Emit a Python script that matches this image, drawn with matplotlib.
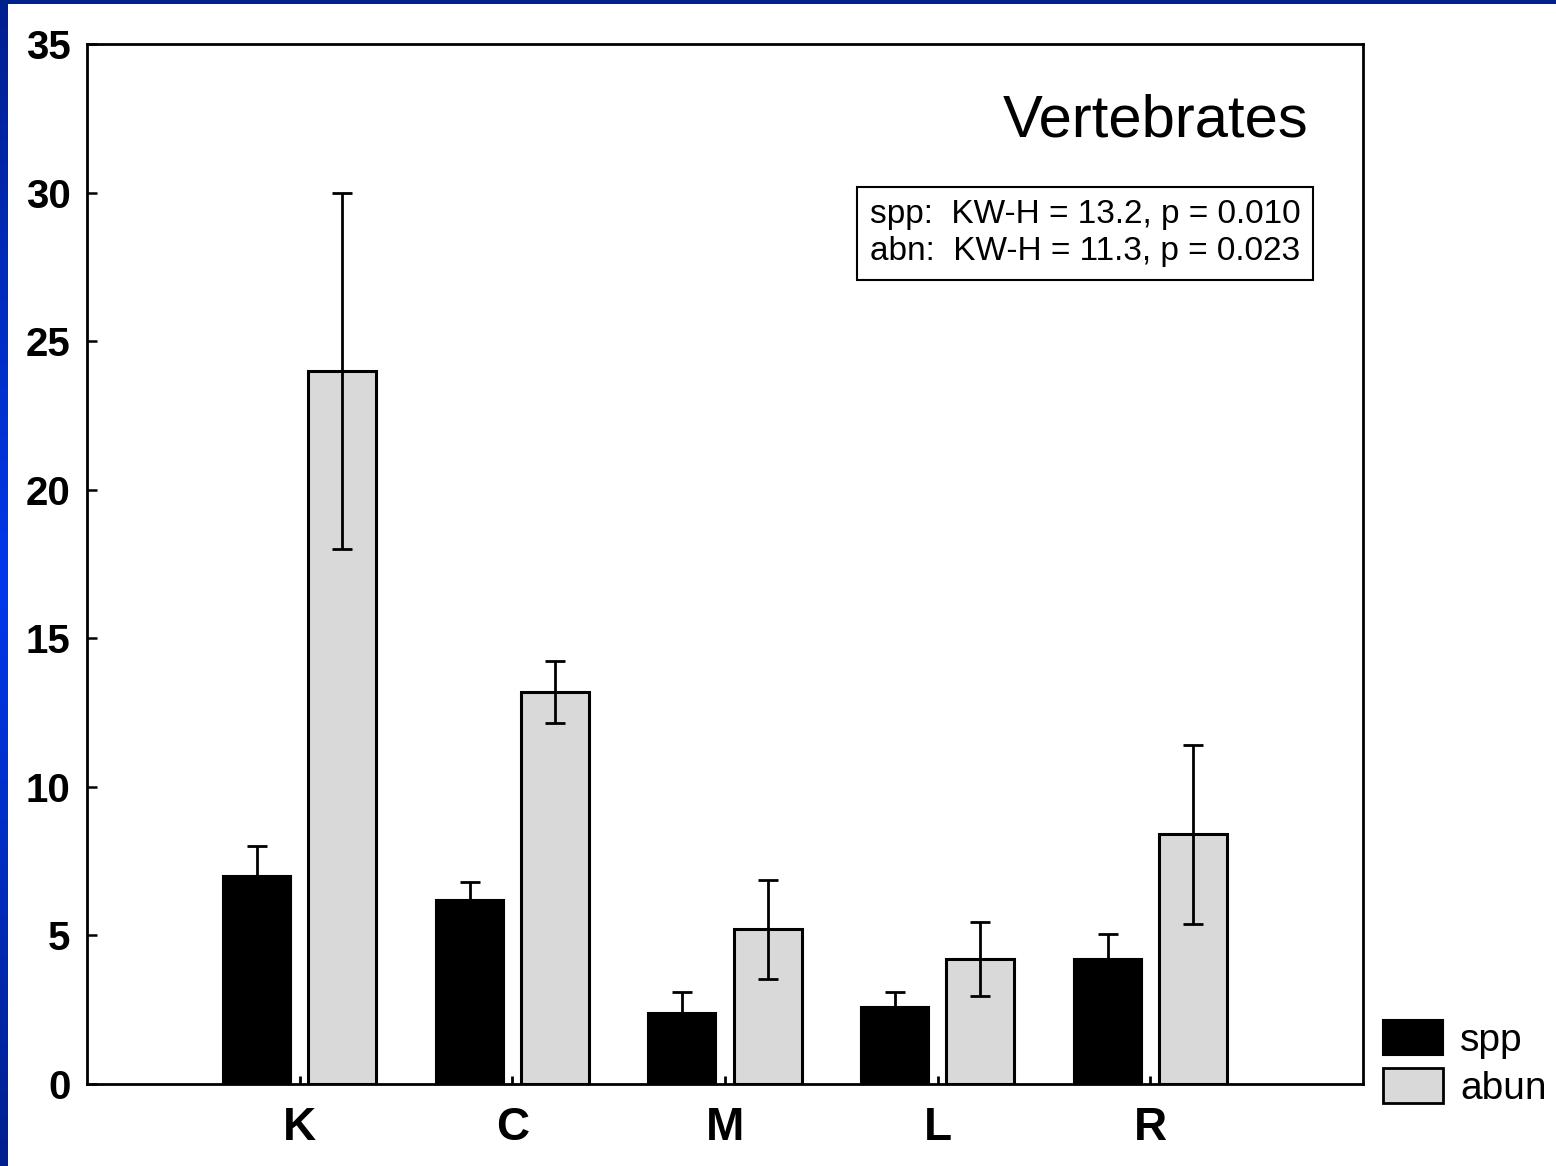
import numpy as np
import matplotlib
matplotlib.use("Agg")
import matplotlib.pyplot as plt
from matplotlib.colors import LinearSegmentedColormap
from matplotlib.patches import Patch

plt.rcParams['font.family'] = ['Liberation Sans', 'DejaVu Sans']

sites = ['K', 'C', 'M', 'L', 'R']
spp_mean = [7.0, 6.2, 2.4, 2.6, 4.2]
spp_err = [1.0, 0.6, 0.7, 0.5, 0.85]
abun_mean = [24.0, 13.2, 5.2, 4.2, 8.4]
abun_err = [6.0, 1.05, 1.65, 1.25, 3.0]
stats_lines = ["spp:  KW-H = 13.2, p = 0.010",
               "abn:  KW-H = 11.3, p = 0.023"]


def main():
    W, H = 1556, 1166
    fig = plt.figure(figsize=(W / 100, H / 100), dpi=100)
    fig.patch.set_facecolor('white')

    # blue slide border (left and top)
    cmap = LinearSegmentedColormap.from_list('edge', ['#00208F', '#0038EC', '#00208F'])
    grad = np.linspace(0, 1, 256).reshape(-1, 1)
    bl = fig.add_axes([0, 0, 8 / W, 1])
    bl.imshow(grad, aspect='auto', cmap=cmap, extent=[0, 1, 0, 1])
    bl.axis('off')
    bt = fig.add_axes([0, 1 - 4 / H, 1, 4 / H])
    bt.set_facecolor('#00208C')
    bt.set_xticks([])
    bt.set_yticks([])
    for s in bt.spines.values():
        s.set_visible(False)

    ax = fig.add_axes([87 / W, 1 - 1084 / H, (1363 - 87) / W, (1084 - 44) / H])
    x = np.arange(len(sites))
    w = 0.32
    off = 0.2

    ax.bar(x - off, spp_mean, w, color='black', edgecolor='black', linewidth=1.5, zorder=2)
    ax.bar(x + off, abun_mean, w, color='#D9D9D9', edgecolor='black', linewidth=2.2, zorder=2)
    ax.errorbar(x - off, spp_mean, yerr=[np.zeros(len(spp_err)), spp_err], fmt='none',
                ecolor='black', elinewidth=2, capsize=7, capthick=2, zorder=3)
    ax.errorbar(x + off, abun_mean, yerr=abun_err, fmt='none',
                ecolor='black', elinewidth=2, capsize=7, capthick=2, zorder=3)

    ax.set_xlim(-1, 5)
    ax.set_ylim(0, 35)
    ax.set_yticks(range(0, 36, 5))
    ax.set_xticks(x)
    ax.set_xticklabels(sites, fontsize=33, fontweight='bold')
    ax.tick_params(axis='y', direction='in', length=7, width=1.8, labelsize=29, pad=12)
    ax.tick_params(axis='x', direction='in', length=6, width=2, pad=16)
    for lab in ax.get_yticklabels():
        lab.set_fontweight('bold')
    for s in ax.spines.values():
        s.set_linewidth(2)

    ax.text(0.957, 0.9106, 'Vertebrates', transform=ax.transAxes, ha='right', va='baseline',
            fontsize=43)
    ax.text(0.951, 0.818, "\n".join(stats_lines), transform=ax.transAxes, ha='right', va='center',
            fontsize=24, linespacing=1.25,
            bbox=dict(boxstyle='square,pad=0.38', facecolor='white', edgecolor='black', linewidth=1.5))

    handles = [Patch(facecolor='black', edgecolor='black', linewidth=1.5),
               Patch(facecolor='#D9D9D9', edgecolor='black', linewidth=2)]
    fig.legend(handles, ['spp', 'abun'], loc='upper left',
               bbox_to_anchor=(1383 / W, 1 - 1020 / H), frameon=False, fontsize=28,
               handlelength=1.55, handleheight=1.0, labelspacing=0.25, handletextpad=0.44,
               borderpad=0, borderaxespad=0)

    fig.savefig('out.png', dpi=100)


if __name__ == "__main__":
    main()
